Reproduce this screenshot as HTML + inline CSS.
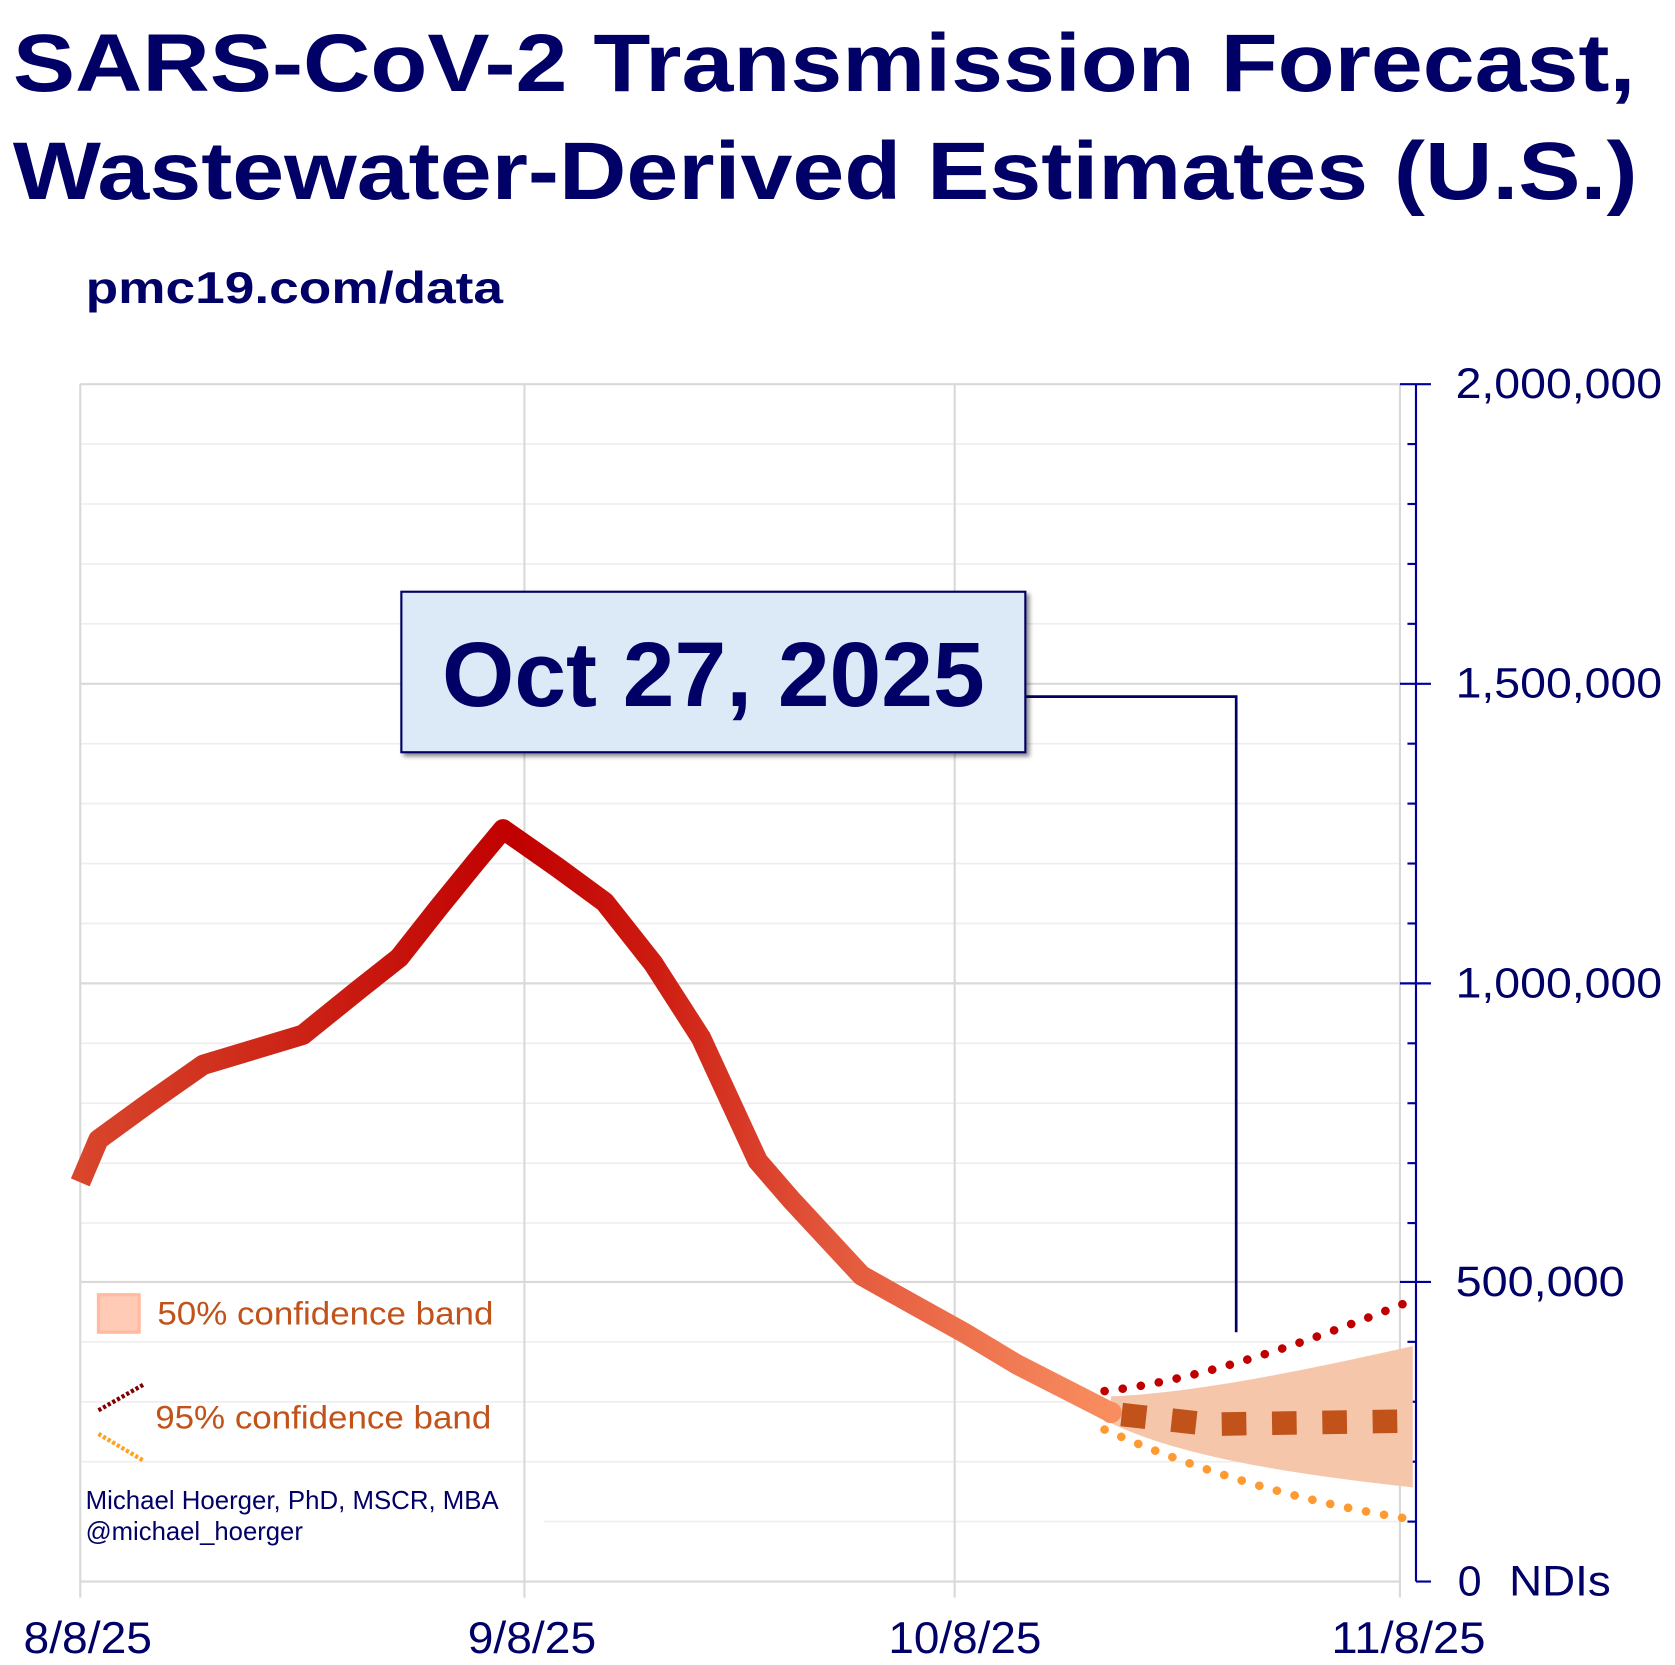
<!DOCTYPE html>
<html><head><meta charset="utf-8"><style>html,body{margin:0;padding:0;background:#fff}svg{display:block}</style></head><body>
<svg width="1675" height="1665" viewBox="0 0 1565 1556" preserveAspectRatio="none" xmlns="http://www.w3.org/2000/svg" font-family="Liberation Sans, Arial, sans-serif">
<defs>
<linearGradient id="g" gradientUnits="userSpaceOnUse" x1="75" y1="0" x2="1040" y2="0">
<stop offset="0" stop-color="#d8462c"/><stop offset="0.42" stop-color="#c00000"/><stop offset="0.55" stop-color="#cc1a10"/><stop offset="0.72" stop-color="#e2553a"/><stop offset="1" stop-color="#f88e60"/>
</linearGradient>
<filter id="sh" x="-5%" y="-5%" width="115%" height="120%"><feDropShadow dx="3" dy="3" stdDeviation="2" flood-color="#000" flood-opacity="0.45"/></filter>
</defs>
<text x="12" y="85" font-size="76" font-weight="bold" fill="#000066" textLength="1516" lengthAdjust="spacingAndGlyphs">SARS-CoV-2 Transmission Forecast,</text>
<text x="12" y="186" font-size="76" font-weight="bold" fill="#000066" textLength="1518" lengthAdjust="spacingAndGlyphs">Wastewater-Derived Estimates (U.S.)</text>
<text x="80" y="283" font-size="42" font-weight="bold" fill="#000066" textLength="390" lengthAdjust="spacingAndGlyphs">pmc19.com/data</text>
<g stroke="#eeeeee" stroke-width="1.5">
<line x1="75" y1="415" x2="1308" y2="415"/><line x1="75" y1="471" x2="1308" y2="471"/><line x1="75" y1="527" x2="1308" y2="527"/><line x1="75" y1="583" x2="1308" y2="583"/>
<line x1="75" y1="695" x2="1308" y2="695"/><line x1="75" y1="751" x2="1308" y2="751"/><line x1="75" y1="807" x2="1308" y2="807"/><line x1="75" y1="863" x2="1308" y2="863"/>
<line x1="75" y1="975" x2="1308" y2="975"/><line x1="75" y1="1031" x2="1308" y2="1031"/><line x1="75" y1="1087" x2="1308" y2="1087"/><line x1="75" y1="1143" x2="1308" y2="1143"/>
<line x1="75" y1="1254" x2="1308" y2="1254"/><line x1="75" y1="1310" x2="1308" y2="1310"/><line x1="75" y1="1366" x2="1308" y2="1366"/><line x1="508" y1="1422" x2="1308" y2="1422"/>
</g>
<g stroke="#d9d9d9" stroke-width="2">
<line x1="75" y1="359" x2="1308" y2="359"/><line x1="75" y1="639" x2="1308" y2="639"/><line x1="75" y1="919" x2="1308" y2="919"/><line x1="75" y1="1198" x2="1308" y2="1198"/><line x1="75" y1="1478" x2="1308" y2="1478"/>
<line x1="75" y1="359" x2="75" y2="1493"/><line x1="490" y1="359" x2="490" y2="1493"/><line x1="892" y1="359" x2="892" y2="1493"/><line x1="1308" y1="359" x2="1308" y2="1493"/>
</g>
<g stroke="#000099" stroke-width="2">
<line x1="1323" y1="359" x2="1323" y2="1478"/>
<line x1="1308" y1="359" x2="1337" y2="359"/><line x1="1308" y1="639" x2="1337" y2="639"/><line x1="1308" y1="919" x2="1337" y2="919"/><line x1="1308" y1="1198" x2="1337" y2="1198"/><line x1="1323" y1="1478" x2="1337" y2="1478"/>
<line x1="1315" y1="415" x2="1323" y2="415"/><line x1="1315" y1="471" x2="1323" y2="471"/><line x1="1315" y1="527" x2="1323" y2="527"/><line x1="1315" y1="583" x2="1323" y2="583"/>
<line x1="1315" y1="695" x2="1323" y2="695"/><line x1="1315" y1="751" x2="1323" y2="751"/><line x1="1315" y1="807" x2="1323" y2="807"/><line x1="1315" y1="863" x2="1323" y2="863"/>
<line x1="1315" y1="975" x2="1323" y2="975"/><line x1="1315" y1="1031" x2="1323" y2="1031"/><line x1="1315" y1="1087" x2="1323" y2="1087"/><line x1="1315" y1="1143" x2="1323" y2="1143"/>
<line x1="1315" y1="1254" x2="1323" y2="1254"/><line x1="1315" y1="1310" x2="1323" y2="1310"/><line x1="1315" y1="1366" x2="1323" y2="1366"/><line x1="1315" y1="1422" x2="1323" y2="1422"/>
</g>
<g font-size="40" fill="#000066">
<text x="1360" y="372" textLength="193" lengthAdjust="spacingAndGlyphs">2,000,000</text>
<text x="1360" y="652" textLength="193" lengthAdjust="spacingAndGlyphs">1,500,000</text>
<text x="1360" y="932" textLength="193" lengthAdjust="spacingAndGlyphs">1,000,000</text>
<text x="1360" y="1211" textLength="158" lengthAdjust="spacingAndGlyphs">500,000</text>
<text x="1362" y="1491">0</text>
<text x="1410" y="1491" textLength="95" lengthAdjust="spacingAndGlyphs">NDIs</text>
</g>
<g font-size="42" fill="#000066">
<text x="22" y="1545" textLength="120" lengthAdjust="spacingAndGlyphs">8/8/25</text>
<text x="437" y="1545" textLength="120" lengthAdjust="spacingAndGlyphs">9/8/25</text>
<text x="830" y="1545" textLength="143" lengthAdjust="spacingAndGlyphs">10/8/25</text>
<text x="1244" y="1545" textLength="144" lengthAdjust="spacingAndGlyphs">11/8/25</text>
</g>
<path d="M1038,1305 C1110,1302 1200,1285 1320,1258 L1320,1390 C1200,1377 1100,1360 1038,1330 Z" fill="#f6c6ab"/>
<path d="M1032,1300 C1120,1290 1220,1255 1320,1215" fill="none" stroke="#c00000" stroke-width="8" stroke-linecap="round" stroke-dasharray="0.1 17"/>
<path d="M1032,1336 C1120,1375 1220,1405 1320,1420" fill="none" stroke="#ff9a33" stroke-width="8" stroke-linecap="round" stroke-dasharray="0.1 17"/>
<polyline points="75,1105 92,1065 140,1030 190,995 240,980 283,967 335,925 373,895 410,848 445,805 470,775 520,810 565,843 610,900 655,970 708,1085 740,1122 805,1192 855,1220 900,1245 950,1275 1038,1320" fill="none" stroke="url(#g)" stroke-width="19" stroke-linejoin="round"/>
<circle cx="1038" cy="1320" r="10" fill="#f88e60"/>
<path d="M1048,1322 L1130,1331 L1320,1328" fill="none" stroke="#c0521a" stroke-width="22" stroke-dasharray="23 24"/>
<polyline points="958,651 1155,651 1155,1245" fill="none" stroke="#000066" stroke-width="2.5"/>
<rect x="375" y="553" width="583" height="150" fill="#dce9f6" stroke="#000066" stroke-width="2" filter="url(#sh)"/>
<text x="413" y="660" font-size="86" font-weight="bold" fill="#000066" textLength="507" lengthAdjust="spacingAndGlyphs">Oct 27, 2025</text>
<rect x="92" y="1210" width="38" height="35" fill="#ffcab6" stroke="#ffbaa0" stroke-width="3"/>
<text x="147" y="1238" font-size="30" fill="#c0521a" textLength="314" lengthAdjust="spacingAndGlyphs">50% confidence band</text>
<line x1="92" y1="1318" x2="134" y2="1294" stroke="#800000" stroke-width="4" stroke-dasharray="3 2"/>
<line x1="92" y1="1340" x2="134" y2="1365" stroke="#ffa020" stroke-width="4" stroke-dasharray="3 2"/>
<text x="145" y="1335" font-size="30" fill="#c0521a" textLength="314" lengthAdjust="spacingAndGlyphs">95% confidence band</text>
<text x="80" y="1410" font-size="24" fill="#000066" textLength="386" lengthAdjust="spacingAndGlyphs">Michael Hoerger, PhD, MSCR, MBA</text>
<text x="80" y="1439" font-size="24" fill="#000066" textLength="203" lengthAdjust="spacingAndGlyphs">@michael_hoerger</text>
</svg>
</body></html>
